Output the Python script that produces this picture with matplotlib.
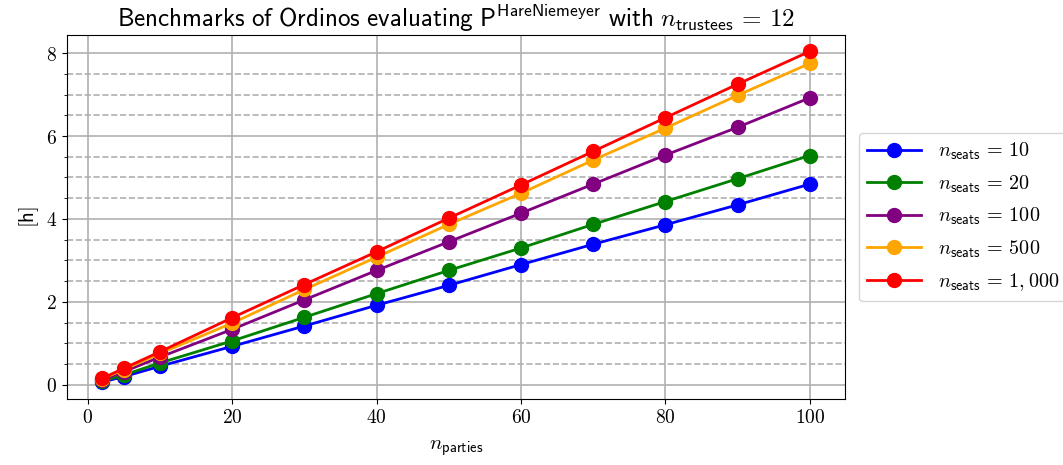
import numpy as np
import matplotlib
matplotlib.use("Agg")
import matplotlib.pyplot as plt
from matplotlib.ticker import MultipleLocator, FuncFormatter

plt.rcParams['mathtext.fontset'] = 'cm'
plt.rcParams['font.size'] = 13

parties = [2, 5, 10, 20, 30, 40, 50, 60, 70, 80, 90, 100]
seats_labels = ['10', '20', '100', '500', '1,000']
colors = ['blue', 'green', 'purple', 'orange', 'red']

h_10 = [0.07, 0.20, 0.45, 0.93, 1.42, 1.92, 2.40, 2.90, 3.39, 3.86, 4.34, 4.84]
h_20 = [0.09, 0.24, 0.53, 1.06, 1.63, 2.20, 2.76, 3.30, 3.87, 4.42, 4.97, 5.53]
h_100 = [0.12, 0.32, 0.67, 1.34, 2.05, 2.76, 3.45, 4.14, 4.84, 5.54, 6.21, 6.92]
h_500 = [0.15, 0.37, 0.76, 1.49, 2.30, 3.08, 3.87, 4.62, 5.42, 6.19, 6.98, 7.75]
h_1000 = [0.16, 0.40, 0.80, 1.62, 2.42, 3.21, 4.02, 4.82, 5.63, 6.44, 7.25, 8.04]
series = [h_10, h_20, h_100, h_500, h_1000]

fig, ax = plt.subplots(figsize=(10.63, 4.65), dpi=100)

for vals, lab, c in zip(series, seats_labels, colors):
    ax.plot(parties, vals, '-o', color=c, lw=2, ms=10,
            label=r'$n_{\mathsf{seats}}\,=\,%s$' % lab)

ax.yaxis.set_major_locator(MultipleLocator(2))
ax.yaxis.set_minor_locator(MultipleLocator(0.5))
ax.xaxis.set_major_locator(MultipleLocator(20))
fmt = FuncFormatter(lambda v, p: r'$%d$' % round(v))
ax.xaxis.set_major_formatter(fmt)
ax.yaxis.set_major_formatter(fmt)
ax.grid(which='major', color='#b0b0b0', lw=1.2)
ax.grid(which='minor', axis='y', color='#b0b0b0', ls='--', lw=1.2)
ax.tick_params(labelsize=14)

ax.set_xlabel(r'$n_{\mathsf{parties}}$', fontsize=15, labelpad=8)
ax.set_ylabel(r'$\mathsf{[h]}$', fontsize=15)
ax.set_title(r'$\mathsf{Benchmarks\ of\ Ordinos\ evaluating\ P^{HareNiemeyer}\ with\ }n_{\mathsf{trustees}}\,=\,12$',
             fontsize=18)

ax.legend(loc='center left', bbox_to_anchor=(1.005, 0.5), fontsize=14.5,
          handlelength=2.7, labelspacing=0.55)

fig.subplots_adjust(left=0.063, right=0.795, top=0.925, bottom=0.143)
fig.savefig('out.png')
